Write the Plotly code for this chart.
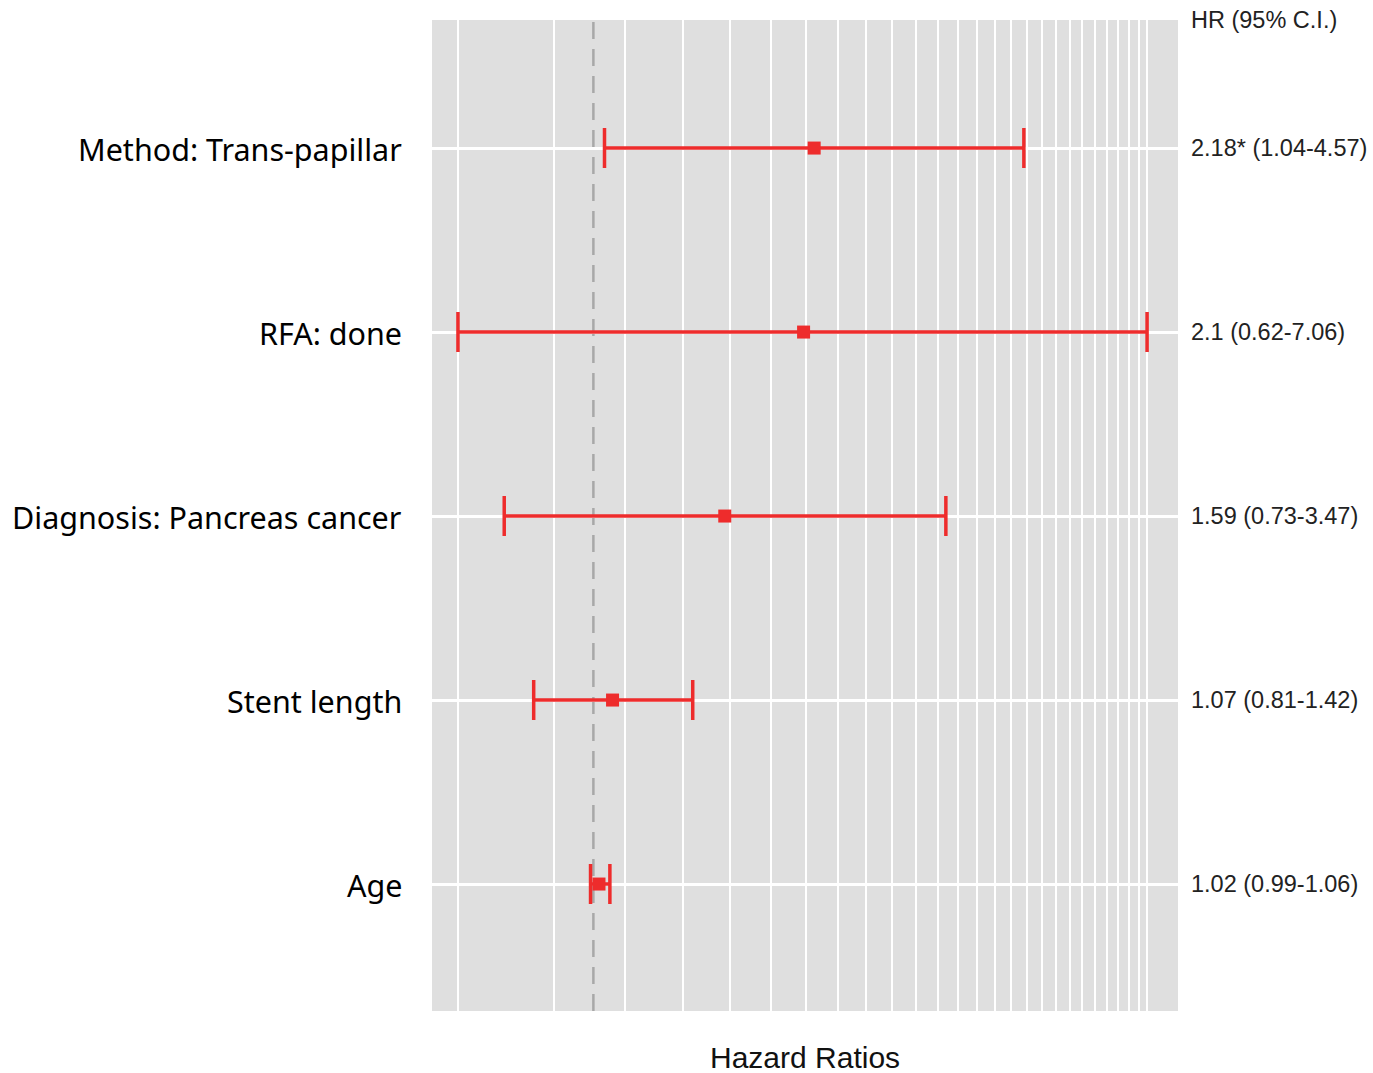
import numpy as np
import plotly.graph_objects as go

# ---- data (top to bottom) ----
labels = ["Method: Trans-papillar", "RFA: done", "Diagnosis: Pancreas cancer", "Stent length", "Age"]
hr = [2.18, 2.1, 1.59, 1.07, 1.02]
ci_low = [1.04, 0.62, 0.73, 0.81, 0.99]
ci_high = [4.57, 7.06, 3.47, 1.42, 1.06]
hr_text = ["2.18* (1.04-4.57)", "2.1 (0.62-7.06)", "1.59 (0.73-3.47)", "1.07 (0.81-1.42)", "1.02 (0.99-1.06)"]
header = "HR (95% C.I.)"
x_title = "Hazard Ratios"
grid_breaks = list(np.round(np.arange(0.62, 6.9, 0.25), 2)) + [7.06]

n = len(labels)
ypos = list(range(n - 1, -1, -1))  # top row highest

RED = "#EE2C2C"

fig = go.Figure()
fig.add_trace(go.Scatter(
    x=hr, y=ypos, mode="markers",
    marker=dict(symbol="square", size=13, color=RED),
    error_x=dict(type="data", symmetric=False,
                 array=[h - m for h, m in zip(ci_high, hr)],
                 arrayminus=[m - l for m, l in zip(hr, ci_low)],
                 color=RED, thickness=3.5, width=20),
    showlegend=False, hoverinfo="skip",
))

# reference line at HR = 1
fig.add_shape(type="line", xref="x", yref="paper", x0=1, x1=1, y0=0, y1=1,
              line=dict(color="#A8A8A8", width=2.5, dash="17px,10px"), layer="between")

annotations = []
for lab, txt, y in zip(labels, hr_text, ypos):
    annotations.append(dict(text=lab, xref="paper", yref="y", x=0, y=y, xanchor="right",
                            yanchor="middle", xshift=-28, yshift=-1, showarrow=False,
                            font=dict(family="Noto Sans", size=30.5, color="#000000")))
    annotations.append(dict(text=txt, xref="paper", yref="y", x=1, y=y, xanchor="left",
                            yanchor="middle", xshift=11, showarrow=False,
                            font=dict(family="Liberation Sans", size=23.5, color="#222222")))
annotations.append(dict(text=header, xref="paper", yref="paper", x=1, y=1, xanchor="left",
                        yanchor="middle", xshift=11, yshift=0, showarrow=False,
                        font=dict(family="Liberation Sans", size=23.5, color="#222222")))
annotations.append(dict(text=x_title, xref="paper", yref="paper", x=0.5, y=0, xanchor="center",
                        yanchor="middle", yshift=-46, showarrow=False,
                        font=dict(family="Liberation Sans", size=30, color="#111111")))

fig.update_layout(
    width=1373, height=1073,
    margin=dict(l=432, r=195, t=20, b=62, pad=0),
    paper_bgcolor="white", plot_bgcolor="#DFDFDF",
    annotations=annotations,
    xaxis=dict(type="log", range=[-0.2474, 0.8962], tickvals=grid_breaks,
               showticklabels=False, ticks="", showgrid=True, gridcolor="white",
               gridwidth=2, zeroline=False, showline=False),
    yaxis=dict(range=[-0.69, n - 1 + 0.696], tickvals=ypos, showticklabels=False, ticks="",
               showgrid=True, gridcolor="white", gridwidth=2.5, zeroline=False, showline=False),
)

fig.write_html("out.html")
